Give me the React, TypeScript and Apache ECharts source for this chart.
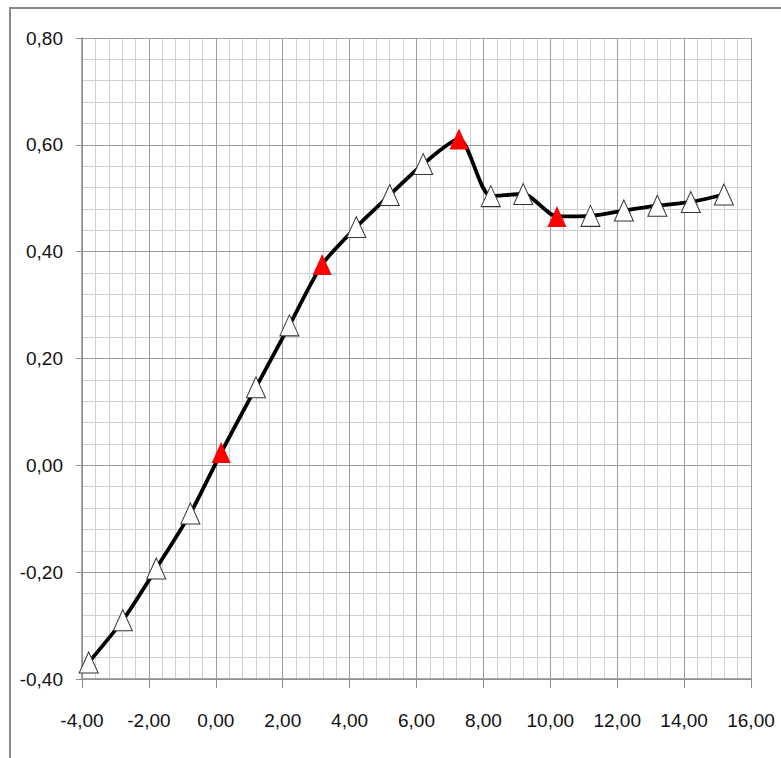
import React, { useEffect, useRef } from "react";
import * as echarts from "echarts";

const xValues = [-3.8, -2.78, -1.78, -0.76, 0.16, 1.2, 2.2, 3.18, 4.2, 5.2, 6.2, 7.27, 8.22, 9.19, 10.2, 11.2, 12.2, 13.2, 14.2, 15.19];
const yValues = [-0.369, -0.29, -0.193, -0.09, 0.024, 0.146, 0.262, 0.376, 0.446, 0.506, 0.564, 0.611, 0.504, 0.508, 0.466, 0.467, 0.477, 0.486, 0.493, 0.507];
const highlighted = [4, 7, 11, 14];

const xMin = -4;
const xMax = 16;
const xStep = 2;
const xMinorStep = 0.4;
const yMin = -0.4;
const yMax = 0.8;
const yStep = 0.2;
const yMinorStep = 0.04;

const fmt = (v: number) => v.toFixed(2).replace(".", ",");
const FONT = "'Liberation Sans', Arial, sans-serif";

export default function App() {
  const ref = useRef<HTMLDivElement>(null);
  useEffect(() => {
    if (!ref.current) return;
    const chart = echarts.init(ref.current, null, { renderer: "svg" });
    const data = xValues.map((x, i) => {
      const red = highlighted.includes(i);
      return {
        value: [x, yValues[i]],
        itemStyle: red
          ? { color: "#ff0000", borderColor: "#ff0000", borderWidth: 0 }
          : { color: "#ffffff", borderColor: "#333333", borderWidth: 1 },
      };
    });
    const minorAxis = {
      type: "value",
      axisLine: { show: false },
      axisTick: { show: false },
      axisLabel: { show: false },
      splitLine: { show: true, lineStyle: { color: "#d0d0d0", width: 1 } },
      z: 0,
    };
    chart.setOption({
      animation: false,
      backgroundColor: "#ffffff",
      graphic: [
        {
          type: "rect",
          shape: { x: 10, y: 8, width: 900, height: 900 },
          style: { fill: "none", stroke: "#8a8a8a", lineWidth: 2 },
          silent: true,
        },
      ],
      grid: { left: 82, top: 38, width: 669, height: 641, containLabel: false },
      xAxis: [
        {
          type: "value",
          min: xMin,
          max: xMax,
          interval: xStep,
          z: 1,
          axisLine: { show: true, onZero: false, lineStyle: { color: "#8c8c8c", width: 1.5 } },
          splitLine: { show: true, lineStyle: { color: "#9c9c9c", width: 1 } },
          axisTick: { show: true, length: 9, inside: false, lineStyle: { color: "#8c8c8c" } },
          axisLabel: {
            formatter: fmt,
            margin: 32,
            fontFamily: FONT,
            fontSize: 19,
            color: "#111111",
            showMinLabel: true,
            showMaxLabel: true,
          },
        },
        { ...minorAxis, min: xMin, max: xMax, interval: xMinorStep, position: "top" },
      ],
      yAxis: [
        {
          type: "value",
          min: yMin,
          max: yMax,
          interval: yStep,
          z: 1,
          axisLine: { show: true, onZero: false, lineStyle: { color: "#8c8c8c", width: 1.5 } },
          splitLine: { show: true, lineStyle: { color: "#9c9c9c", width: 1 } },
          axisTick: { show: true, length: 6, inside: false, lineStyle: { color: "#8c8c8c" } },
          axisLabel: {
            formatter: fmt,
            margin: 19,
            fontFamily: FONT,
            fontSize: 19,
            color: "#111111",
            showMinLabel: true,
            showMaxLabel: true,
          },
        },
        { ...minorAxis, min: yMin, max: yMax, interval: yMinorStep, position: "right" },
      ],
      series: [
        {
          type: "line",
          data,
          xAxisIndex: 0,
          yAxisIndex: 0,
          smooth: 0.25,
          symbol: "triangle",
          symbolSize: [19, 21],
          showAllSymbol: true,
          lineStyle: { color: "#000000", width: 3.8 },
          itemStyle: { color: "#ffffff", borderColor: "#333333" },
          emphasis: { disabled: true },
          z: 3,
        },
      ],
    });
    return () => chart.dispose();
  }, []);
  return (
    <div
      ref={ref}
      style={{ position: "absolute", left: 0, top: 0, width: 781, height: 758, background: "#fff" }}
    />
  );
}
